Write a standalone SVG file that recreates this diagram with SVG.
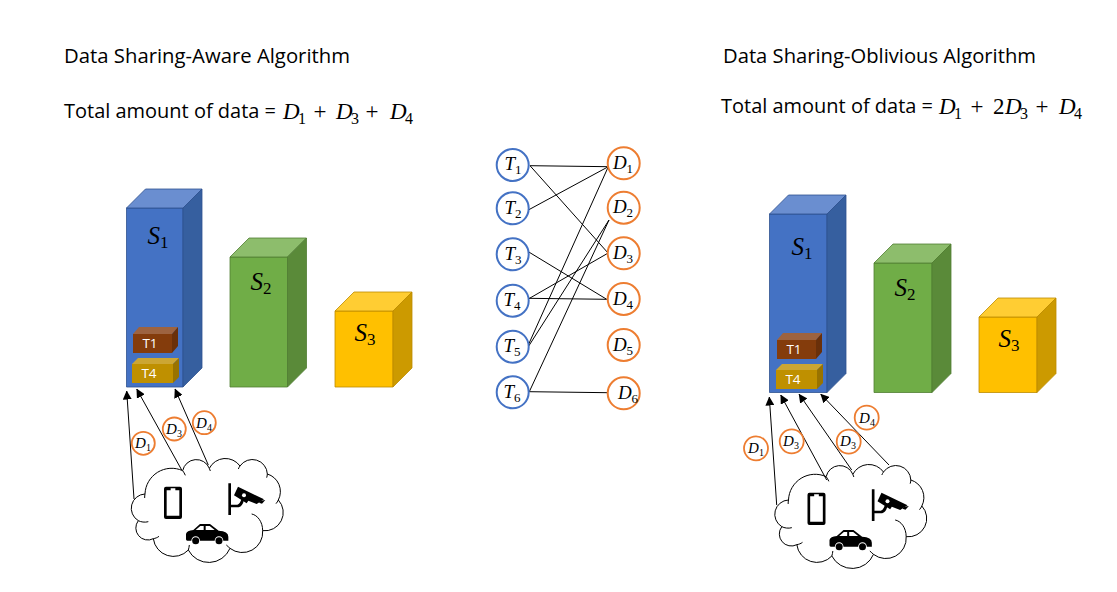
<svg xmlns="http://www.w3.org/2000/svg" xmlns:xlink="http://www.w3.org/1999/xlink" width="1117" height="592" viewBox="0 0 1117 592">
<style>
text{fill:#000}
.t{font-family:"Open Sans","Liberation Sans",sans-serif;font-size:20px}
.m{font-family:"Liberation Serif","DejaVu Serif",serif;font-size:23px}
.i{font-style:italic}
.s{font-family:"Liberation Serif","DejaVu Serif",serif;font-size:16px}
.c{font-family:"Liberation Serif","DejaVu Serif",serif;font-size:19px;font-style:italic;text-anchor:middle}
.c tspan{font-style:normal;font-size:13px}
.c2{font-family:"Liberation Serif","DejaVu Serif",serif;font-size:15px;font-style:italic;text-anchor:middle}
.c2 tspan{font-style:normal;font-size:10px}
.big{font-family:"Liberation Serif","DejaVu Serif",serif;font-size:25px;font-style:italic;text-anchor:middle}
.big tspan{font-style:normal;font-size:17px}
.tb{fill:#fff;stroke:#4472C4;stroke-width:2}
.db{fill:#fff;stroke:#ED7D31;stroke-width:2}
.ds{fill:#fff;stroke:#ED7D31;stroke-width:1.8}
.lbl{font-family:"Open Sans","Liberation Sans",sans-serif;font-size:13.500px;fill:#fff;text-anchor:middle}
.e{stroke:#000;stroke-width:1;fill:none}
.a{stroke:#000;stroke-width:1;fill:none;marker-end:url(#ah)}
.blue .f{fill:#4472C4}.blue .u{fill:#6A8ED0}.blue .r{fill:#365F9F}.blue path{stroke:#2F528F;stroke-width:.8}
.green .f{fill:#70AD47}.green .u{fill:#8DBD6C}.green .r{fill:#5A8A39}.green path{stroke:#507E32;stroke-width:.8}
.yellow .f{fill:#FFC000}.yellow .u{fill:#FFCD33}.yellow .r{fill:#CC9A00}.yellow path{stroke:#BC8C00;stroke-width:.8}
.brown .f{fill:#843C0C}.brown .u{fill:#9D6340}.brown .r{fill:#6A300A}
.gold .f{fill:#BF9000}.gold .u{fill:#CCA633}.gold .r{fill:#997300}
</style>
<defs>
<marker id="ah" viewBox="0 0 10 10" refX="9.500" refY="5" markerWidth="9" markerHeight="9" markerUnits="userSpaceOnUse" orient="auto"><path d="M0 0L10 5L0 10Z" fill="#000"/></marker>
<g id="cloudshape" transform="translate(110 380) scale(.33333)">
<path d="M105 342A80 80 0 0 1 218 272A42 42 0 0 1 298 265A54 54 0 0 1 390 258A45 45 0 0 1 472 282A55 55 0 0 1 505 360A55 55 0 0 1 458 452A61 61 0 0 1 360 505A69 69 0 0 1 235 510A61 61 0 0 1 130 476A36 36 0 0 1 85 422A43 43 0 0 1 105 342Z" fill="#fff" stroke="#000" stroke-width="3"/>
<path d="M85 422C92 426 105 428 115 425M130 476C136 475 142 473 147 469M235 510C236 505 238 500 238 495M360 505C357 502 353 499 349 495M425 402C442 405 458 425 458 452M505 360C503 364 501 368 498 371M472 282C472 286 471 290 470 293M390 258C388 261 386 264 385 267M298 265C299 268 300 270 301 273M218 272C221 276 224 281 226 286M105 342C104 346 104 350 104 354" fill="none" stroke="#000" stroke-width="3"/>
<path fill-rule="evenodd" d="M168 320H210Q216 320 216 326V411Q216 417 210 417H168Q162 417 162 411V326Q162 320 168 320ZM170 331V407H208V331H196V325H182V331Z" fill="#000"/>
<path d="M355 310H363V405H355ZM363 374H382Q390 372 394 358L402 360Q398 378 386 382H363Z" fill="#000"/>
<path d="M384 320L462 358L440 372L415 362L410 370L372 346Z" fill="#000"/>
<circle cx="402" cy="346" r="6" fill="#fff"/>
<path d="M452 362L466 360L456 371L447 368Z" fill="#000"/>
<path fill-rule="evenodd" d="M228 478V462Q230 452 250 450L270 432H300L326 452Q355 454 355 470V482H340A13 13 0 0 0 314 482H270A13 13 0 0 0 244 482H232Q228 482 228 478ZM257 450H281V438H271ZM287 450H314L299 438H287Z" fill="#000"/>
<circle cx="257" cy="482" r="10.500" fill="#000"/><circle cx="327" cy="482" r="10.500" fill="#000"/>
</g>
</defs>
<rect width="1117" height="592" fill="#fff"/>

<g id="title-left">
<text class="t" x="64" y="63" textLength="286" lengthAdjust="spacingAndGlyphs">Data Sharing-Aware Algorithm</text>
<text class="t" x="64" y="118" textLength="212" lengthAdjust="spacingAndGlyphs">Total amount of data =</text>
<text class="m i" x="283" y="119">D</text><text class="s" x="298" y="124">1</text>
<text class="m" x="320" y="119" text-anchor="middle">+</text>
<text class="m i" x="336" y="119">D</text><text class="s" x="351" y="124">3</text>
<text class="m" x="372" y="119" text-anchor="middle">+</text>
<text class="m i" x="390" y="119">D</text><text class="s" x="405" y="124">4</text>
</g>
<g id="title-right">
<text class="t" x="723" y="63" textLength="313" lengthAdjust="spacingAndGlyphs">Data Sharing-Oblivious Algorithm</text>
<text class="t" x="721" y="113" textLength="212" lengthAdjust="spacingAndGlyphs">Total amount of data =</text>
<text class="m i" x="939" y="114">D</text><text class="s" x="954" y="119">1</text>
<text class="m" x="977" y="114" text-anchor="middle">+</text>
<text class="m" x="993" y="114">2</text>
<text class="m i" x="1005" y="114">D</text><text class="s" x="1020" y="119">3</text>
<text class="m" x="1042" y="114" text-anchor="middle">+</text>
<text class="m i" x="1059" y="114">D</text><text class="s" x="1074" y="119">4</text>
</g>

<g id="left-S1" class="blue"><path class="f" d="M126.500 208H183V387H126.500Z"/><path class="u" d="M126.500 208L145.500 189H202L183 208Z"/><path class="r" d="M183 208L202 189V368L183 387Z"/><text class="big" x="158" y="244">S<tspan dy="4">1</tspan></text></g>
<g id="left-T1" class="brown"><path class="f" d="M133 334H172V353H133Z"/><path class="u" d="M133 334L139 327H178L172 334Z"/><path class="r" d="M172 334L178 327V346L172 353Z"/><text class="lbl" x="150" y="348">T1</text></g>
<g id="left-T4" class="gold"><path class="f" d="M132 364H173V383H132Z"/><path class="u" d="M132 364L138 358H179L173 364Z"/><path class="r" d="M173 364L179 358V377L173 383Z"/><text class="lbl" x="149" y="378">T4</text></g>
<g id="left-S2" class="green"><path class="f" d="M230 257H287.500V387H230Z"/><path class="u" d="M230 257L249 238H306.500L287.500 257Z"/><path class="r" d="M287.500 257L306.500 238V368L287.500 387Z"/><text class="big" x="261" y="290">S<tspan dy="4">2</tspan></text></g>
<g id="left-S3" class="yellow"><path class="f" d="M335 311H393V387H335Z"/><path class="u" d="M335 311L354 292H412L393 311Z"/><path class="r" d="M393 311L412 292V368L393 387Z"/><text class="big" x="365" y="341">S<tspan dy="4">3</tspan></text></g>

<g id="right-S1" class="blue"><path class="f" d="M769.500 214H827V392.500H769.500Z"/><path class="u" d="M769.500 214L788.500 195H846L827 214Z"/><path class="r" d="M827 214L846 195V373.500L827 392.500Z"/><text class="big" x="802" y="255">S<tspan dy="4">1</tspan></text></g>
<g id="right-T1" class="brown"><path class="f" d="M777 340H816V359H777Z"/><path class="u" d="M777 340L783 333H822L816 340Z"/><path class="r" d="M816 340L822 333V352L816 359Z"/><text class="lbl" x="794" y="354">T1</text></g>
<g id="right-T4" class="gold"><path class="f" d="M776 370H817V389H776Z"/><path class="u" d="M776 370L782 364H823L817 370Z"/><path class="r" d="M817 370L823 364V383L817 389Z"/><text class="lbl" x="793" y="384">T4</text></g>
<g id="right-S2" class="green"><path class="f" d="M874 263H932V392.500H874Z"/><path class="u" d="M874 263L893 244H951L932 263Z"/><path class="r" d="M932 263L951 244V373.500L932 392.500Z"/><text class="big" x="905" y="296">S<tspan dy="4">2</tspan></text></g>
<g id="right-S3" class="yellow"><path class="f" d="M979 317H1037V392.500H979Z"/><path class="u" d="M979 317L998 298H1056L1037 317Z"/><path class="r" d="M1037 317L1056 298V373.500L1037 392.500Z"/><text class="big" x="1009" y="347">S<tspan dy="4">3</tspan></text></g>

<g id="cloud-left"><use href="#cloudshape"/></g>
<g id="cloud-right"><use href="#cloudshape" transform="translate(643.500 6)"/></g>

<g id="connectors">
<path class="a" d="M134 499L126.700 391"/>
<path class="a" d="M181.700 470L136.700 389"/>
<path class="a" d="M208.300 465L175 389"/>
<path class="a" d="M776.700 505L769.300 397"/>
<path class="a" d="M826.700 480L780.700 395"/>
<path class="a" d="M851.700 470L799 394"/>
<path class="a" d="M889 465L820.700 394"/>
<path class="e" d="M530 165.700L608.300 166.700"/>
<path class="e" d="M530 165.700L608.300 253.300"/>
<path class="e" d="M528.300 210L608.300 166.700"/>
<path class="e" d="M528.300 251.700L606.700 299.300"/>
<path class="e" d="M528.300 299L607.700 253.300"/>
<path class="e" d="M528.300 298.300L606.700 299.300"/>
<path class="e" d="M528.300 345L608.300 166.700"/>
<path class="e" d="M528.300 346.700L609 220"/>
<path class="e" d="M529.300 391.700L609 220"/>
<path class="e" d="M529.300 391.700L607.700 392.700"/>
</g>

<g id="T1"><circle class="tb" cx="512.700" cy="165" r="16"/><text class="c" x="513" y="170">T<tspan dy="4">1</tspan></text></g>
<g id="T2"><circle class="tb" cx="512.700" cy="208.300" r="16"/><text class="c" x="513" y="214">T<tspan dy="4">2</tspan></text></g>
<g id="T3"><circle class="tb" cx="512.700" cy="254.300" r="16"/><text class="c" x="513" y="260">T<tspan dy="4">3</tspan></text></g>
<g id="T4"><circle class="tb" cx="512.700" cy="300.700" r="16"/><text class="c" x="512" y="306">T<tspan dy="4">4</tspan></text></g>
<g id="T5"><circle class="tb" cx="512.700" cy="346.700" r="16"/><text class="c" x="512" y="352">T<tspan dy="4">5</tspan></text></g>
<g id="T6"><circle class="tb" cx="512.700" cy="392.300" r="16"/><text class="c" x="512" y="398">T<tspan dy="4">6</tspan></text></g>
<g id="D1"><circle class="db" cx="623.700" cy="163.300" r="16"/><text class="c" x="623" y="169">D<tspan dy="4">1</tspan></text></g>
<g id="D2"><circle class="db" cx="623.700" cy="207.700" r="16"/><text class="c" x="623" y="213">D<tspan dy="4">2</tspan></text></g>
<g id="D3"><circle class="db" cx="623.700" cy="253.300" r="16"/><text class="c" x="623" y="259">D<tspan dy="4">3</tspan></text></g>
<g id="D4"><circle class="db" cx="623.700" cy="299" r="16"/><text class="c" x="623" y="305">D<tspan dy="4">4</tspan></text></g>
<g id="D5"><circle class="db" cx="623.700" cy="345" r="16"/><text class="c" x="623" y="351">D<tspan dy="4">5</tspan></text></g>
<g id="D6"><circle class="db" cx="623.700" cy="393.300" r="16"/><text class="c" x="628" y="399">D<tspan dy="4">6</tspan></text></g>

<g id="left-D1"><circle class="ds" cx="143.300" cy="443.300" r="11.500"/><text class="c2" x="143" y="448">D<tspan dy="3">1</tspan></text></g>
<g id="left-D3"><circle class="ds" cx="174.300" cy="429" r="11.500"/><text class="c2" x="174" y="434">D<tspan dy="3">3</tspan></text></g>
<g id="left-D4"><circle class="ds" cx="204.300" cy="422.700" r="11.500"/><text class="c2" x="204" y="428">D<tspan dy="3">4</tspan></text></g>
<g id="right-D1"><circle class="ds" cx="756" cy="448.300" r="12"/><text class="c2" x="756" y="453">D<tspan dy="3">1</tspan></text></g>
<g id="right-D3a"><circle class="ds" cx="791.700" cy="441.300" r="12"/><text class="c2" x="791" y="446">D<tspan dy="3">3</tspan></text></g>
<g id="right-D3b"><circle class="ds" cx="848.700" cy="441.700" r="12"/><text class="c2" x="848" y="446">D<tspan dy="3">3</tspan></text></g>
<g id="right-D4"><circle class="ds" cx="866.700" cy="417.700" r="12"/><text class="c2" x="867" y="423">D<tspan dy="3">4</tspan></text></g>
</svg>
